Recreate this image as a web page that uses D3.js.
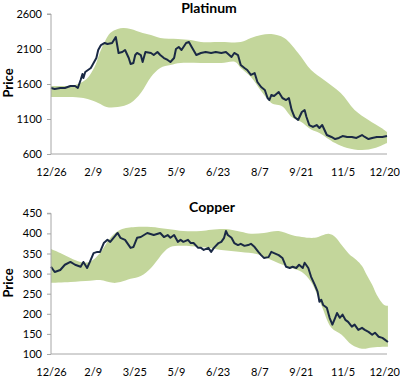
<!DOCTYPE html>
<html>
<head>
<meta charset="utf-8">
<script src="https://cdn.jsdelivr.net/npm/d3@7"></script>
<style>
  html, body { margin: 0; padding: 0; background: #fff; }
  svg { display: block; }
  text { font-family: Lato, "Open Sans", "Liberation Sans", sans-serif; fill: #000; }
</style>
</head>
<body>
<svg id="chart" width="400" height="381"></svg>
<script>
// ---- x axis (days after 12/26) ----
const tickDays = [0, 45, 90, 135, 180, 225, 270, 315, 360];
const tickLabels = ["12/26", "2/9", "3/25", "5/9", "6/23", "8/7", "9/21", "11/5", "12/20"];

// ---- Platinum ----
const platinumTicks = [600, 1100, 1600, 2100, 2600];
const platinumDays = [0,4,10,15,21,26,29,32,34,35,37,40,43,46,49,51,54,58,61,66,70,73,77,80,84,86,89,91,93,97,99,102,108,111,115,118,122,126,129,133,135,138,141,146,149,152,157,162,167,173,178,184,189,195,198,202,205,209,212,216,220,223,227,231,234,236,238,241,246,250,254,257,260,263,267,271,274,276,279,283,287,290,293,298,303,307,311,315,320,325,330,336,339,343,347,352,358,363];
const platinumPrice = [1543,1529,1543,1543,1571,1571,1543,1657,1743,1686,1771,1800,1829,1900,1971,2086,2157,2186,2171,2186,2271,2043,2057,2086,1971,1886,1900,2014,2043,2014,1914,2057,2043,2014,2057,2014,1971,1943,1914,1971,2100,2129,2086,2186,2200,2129,2014,2043,2057,2043,2057,2043,2057,1986,2043,2014,1871,1829,1800,1729,1757,1629,1557,1514,1400,1371,1443,1429,1486,1400,1371,1400,1229,1129,1086,1200,1229,1129,1014,986,1014,971,1014,871,843,814,829,857,843,843,829,871,843,814,829,843,843,857];
const platinumUpperDays = [0,26,37,42,48,53,59,64,72,78,86,99,108,118,137,151,162,184,205,216,227,238,252,267,281,295,313,328,343,357,363];
const platinumUpper = [1571,1586,1657,1729,1871,2057,2229,2329,2386,2400,2386,2329,2300,2257,2243,2229,2200,2200,2200,2257,2300,2314,2257,2043,1800,1657,1471,1229,1086,971,914];
const platinumLowerDays = [0,35,51,60,72,86,97,108,118,129,140,162,184,199,205,216,227,238,250,260,270,281,290,298,307,320,336,350,363];
const platinumLower = [1414,1400,1329,1271,1271,1329,1471,1700,1829,1871,1900,1900,1900,1914,1829,1700,1500,1330,1280,1130,1060,950,900,830,757,686,657,686,757];

// ---- Copper ----
const copperTicks = [100, 150, 200, 250, 300, 350, 400, 450];
const copperDays = [0,4,10,15,21,26,32,35,39,42,46,50,53,57,61,64,70,72,75,80,86,89,93,97,104,111,118,122,126,129,133,137,140,143,148,151,154,159,162,165,170,173,176,181,184,187,189,191,195,198,202,205,209,213,216,220,224,227,230,235,238,241,246,250,254,258,261,265,268,272,274,278,281,285,288,290,292,294,298,301,304,307,309,312,315,318,321,325,328,332,336,339,343,347,350,354,358,361,364];
const copperPrice = [317,304,309,322,329,322,317,329,314,329,351,354,354,376,384,379,396,401,389,384,364,366,389,391,401,396,401,391,396,389,396,379,384,379,384,376,376,364,364,359,364,354,364,376,379,389,406,396,389,376,371,374,369,371,374,366,354,346,339,341,354,351,346,339,317,314,317,314,322,314,327,314,292,272,255,230,235,222,215,190,173,190,202,190,198,185,180,168,173,160,165,160,155,148,153,143,140,135,130];
const copperUpperDays = [0,10,21,32,42,53,61,67,75,83,91,108,126,143,162,173,189,205,216,230,246,260,271,285,300,307,314,322,330,336,341,347,352,360,364];
const copperUpper = [361,351,339,329,329,351,379,396,409,414,416,416,411,406,406,409,411,404,399,401,406,396,391,389,399,391,371,349,334,319,297,272,247,222,220];
const copperLowerDays = [0,21,42,53,67,75,86,97,108,115,122,129,140,162,184,205,222,233,246,260,271,281,292,303,314,325,336,347,358,364];
const copperLower = [277,279,282,284,277,279,287,294,314,334,354,366,369,366,359,354,349,339,326,314,304,279,222,165,148,123,113,116,118,118];

const svg = d3.select("#chart");

function panel(opt) {
  const x = d3.scaleLinear().domain([0, 363]).range([51, 387]);
  const y = d3.scaleLinear().domain(opt.domain).range([opt.bottom, opt.top]);
  const g = svg.append("g");

  // band: smooth upper edge, then smooth lower edge back, closed
  const edge = d3.line().x(d => x(d[0])).y(d => y(d[1])).curve(d3.curveCatmullRom.alpha(0.5));
  const upperPts = opt.upperDays.map((d, i) => [d, opt.upper[i]]);
  const lowerPts = opt.lowerDays.map((d, i) => [d, opt.lower[i]]).reverse();
  const bandPath = edge(upperPts) + edge(lowerPts).replace(/^M/, "L") + "Z";
  g.append("path")
    .attr("d", bandPath)
    .attr("fill", "#c3d69b")
    .attr("stroke", "none");

  // price line
  g.append("path")
    .datum(opt.days.map((d, i) => [d, opt.price[i]]))
    .attr("d", d3.line().x(d => x(d[0])).y(d => y(d[1])))
    .attr("fill", "none")
    .attr("stroke", "#1a2945")
    .attr("stroke-width", 2)
    .attr("stroke-linejoin", "round");

  // y axis
  const ya = g.append("g").attr("transform", "translate(51,0)")
    .call(d3.axisLeft(y).tickValues(opt.ticks).tickSize(4).tickPadding(5).tickFormat(d3.format("d")));
  ya.select(".domain").attr("stroke", "#a6a6a6").attr("d", `M-4,${opt.top}H0V${opt.bottom}`);
  ya.selectAll(".tick line").attr("stroke", "#a6a6a6");
  ya.selectAll(".tick text").attr("font-size", 11).attr("fill", "#000")
    .style("font-family", "Lato, 'Open Sans', sans-serif");

  // x axis
  const xa = g.append("g").attr("transform", `translate(0,${opt.bottom})`)
    .call(d3.axisBottom(x).tickValues(tickDays).tickSize(0).tickPadding(14)
      .tickFormat((d, i) => tickLabels[i]));
  xa.select(".domain").attr("stroke", "#a6a6a6").attr("d", "M51,0H387");
  xa.selectAll(".tick text").attr("font-size", 11).attr("fill", "#000")
    .style("font-family", "Lato, 'Open Sans', sans-serif");

  // title
  g.append("text").attr("x", opt.titleX).attr("y", opt.titleY)
    .attr("text-anchor", "middle").attr("font-size", 14).attr("font-weight", "bold")
    .text(opt.title);

  // y title
  g.append("text")
    .attr("transform", `translate(13,${opt.priceY}) rotate(-90)`)
    .attr("text-anchor", "middle").attr("font-size", 13).attr("font-weight", "bold")
    .text("Price");
}

panel({
  title: "Platinum", titleX: 209, titleY: 13,
  domain: [600, 2600], top: 14, bottom: 154, ticks: platinumTicks, priceY: 83,
  days: platinumDays, price: platinumPrice,
  upperDays: platinumUpperDays, upper: platinumUpper,
  lowerDays: platinumLowerDays, lower: platinumLower
});

panel({
  title: "Copper", titleX: 212, titleY: 212,
  domain: [100, 450], top: 213.3, bottom: 354, ticks: copperTicks, priceY: 283,
  days: copperDays, price: copperPrice,
  upperDays: copperUpperDays, upper: copperUpper,
  lowerDays: copperLowerDays, lower: copperLower
});
</script>
</body>
</html>
